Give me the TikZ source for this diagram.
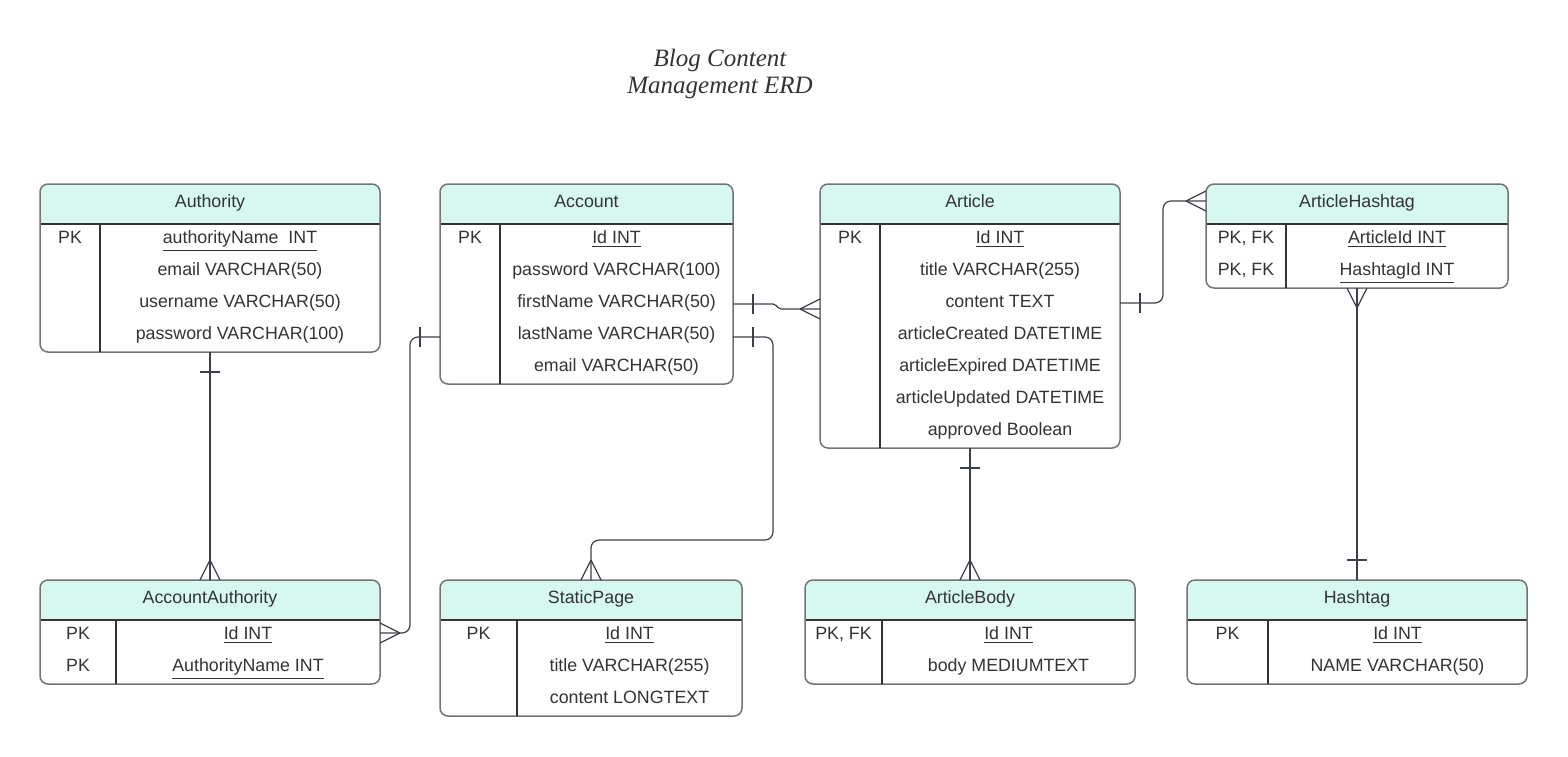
\documentclass[tikz,border=0pt]{standalone}
\usepackage{fontspec}
\setmainfont{Liberation Sans}
\newfontfamily\titlefont{Liberation Serif}
\usepackage{tikz}
\definecolor{mint}{HTML}{D7F8F1}
\definecolor{framegray}{HTML}{737373}
\definecolor{ink}{HTML}{333333}
\definecolor{linegray}{HTML}{3C4048}

\begin{document}
\begin{tikzpicture}[x=0.5pt,y=-0.5pt,
  table/.style={draw=framegray,line width=0.75pt,rounded corners=4pt,inner sep=0pt,outer sep=0pt,
    path picture={\fill[mint,sharp corners] (path picture bounding box.north west) rectangle ([yshift=-20pt]path picture bounding box.north east);
      \draw[ink,line width=0.6pt,sharp corners] ([yshift=-20pt]path picture bounding box.north west) -- ([yshift=-20pt]path picture bounding box.north east);}},
  rule/.style={draw=ink,line width=0.6pt},
  head/.style={text=ink,font=\fontsize{8.9}{10}\selectfont,text height=8pt,text depth=1.6pt,inner sep=0pt},
  key/.style={head},
  field/.style={head},
  conn/.style={draw=linegray,line width=0.6pt,rounded corners=4pt},
  crow/.pic={\draw[draw=linegray,line width=0.6pt] (-20,0) -- (0,-10) (-20,0) -- (0,10);},
  onebar/.pic={\draw[draw=linegray,line width=0.6pt] (-20,-10) -- (-20,10);}]
  \useasboundingbox (0,0) rectangle (1568,756);

  \node[align=center,text=ink,font=\titlefont\itshape\fontsize{12.5}{13.5}\selectfont] (title) at (720,74) {Blog Content\\Management ERD};

  % Authority
  \node[table,minimum width=170pt,minimum height=84pt] (auth) at (210,268) {};
  \draw[rule] ([shift={(60,40)}]auth.north west) -- ([shift={(60,0)}]auth.south west);
  \node[head] (auth-h) at ([yshift=-8.5pt]auth.north) {Authority};
  \node[key] (auth-k1) at (70,237) {PK};
  \node[field] (auth-r1) at (240,237) {\underline{authorityName\ \ INT}};
  \node[field] (auth-r2) at (240,269) {email VARCHAR(50)};
  \node[field] (auth-r3) at (240,301) {username VARCHAR(50)};
  \node[field] (auth-r4) at (240,333) {password VARCHAR(100)};

  % Account
  \node[table,minimum width=146.5pt,minimum height=100pt] (acc) at (586.5,284) {};
  \draw[rule] ([shift={(60,40)}]acc.north west) -- ([shift={(60,0)}]acc.south west);
  \node[head] (acc-h) at ([yshift=-8.5pt]acc.north) {Account};
  \node[key] (acc-k1) at (470,237) {PK};
  \node[field] (acc-r1) at (616.5,237) {\underline{Id INT}};
  \node[field] (acc-r2) at (616.5,269) {password VARCHAR(100)};
  \node[field] (acc-r3) at (616.5,301) {firstName VARCHAR(50)};
  \node[field] (acc-r4) at (616.5,333) {lastName VARCHAR(50)};
  \node[field] (acc-r5) at (616.5,365) {email VARCHAR(50)};

  % Article
  \node[table,minimum width=150pt,minimum height=132pt] (art) at (970,316) {};
  \draw[rule] ([shift={(60,40)}]art.north west) -- ([shift={(60,0)}]art.south west);
  \node[head] (art-h) at ([yshift=-8.5pt]art.north) {Article};
  \node[key] (art-k1) at (850,237) {PK};
  \node[field] (art-r1) at (1000,237) {\underline{Id INT}};
  \node[field] (art-r2) at (1000,269) {title VARCHAR(255)};
  \node[field] (art-r3) at (1000,301) {content TEXT};
  \node[field] (art-r4) at (1000,333) {articleCreated DATETIME};
  \node[field] (art-r5) at (1000,365) {articleExpired DATETIME};
  \node[field] (art-r6) at (1000,397) {articleUpdated DATETIME};
  \node[field] (art-r7) at (1000,429) {approved Boolean};

  % ArticleHashtag
  \node[table,minimum width=151pt,minimum height=52pt] (ahash) at (1357,236) {};
  \draw[rule] ([shift={(80,40)}]ahash.north west) -- ([shift={(80,0)}]ahash.south west);
  \node[head] (ahash-h) at ([yshift=-8.5pt]ahash.north) {ArticleHashtag};
  \node[key] (ahash-k1) at (1246,237) {PK, FK};
  \node[key] (ahash-k2) at (1246,269) {PK, FK};
  \node[field] (ahash-r1) at (1397,237) {\underline{ArticleId INT}};
  \node[field] (ahash-r2) at (1397,269) {\underline{HashtagId INT}};

  % AccountAuthority
  \node[table,minimum width=170pt,minimum height=52pt] (accauth) at (210,632) {};
  \draw[rule] ([shift={(76,40)}]accauth.north west) -- ([shift={(76,0)}]accauth.south west);
  \node[head] (accauth-h) at ([yshift=-8.5pt]accauth.north) {AccountAuthority};
  \node[key] (accauth-k1) at (78,633) {PK};
  \node[key] (accauth-k2) at (78,665) {PK};
  \node[field] (accauth-r1) at (248,633) {\underline{Id INT}};
  \node[field] (accauth-r2) at (248,665) {\underline{AuthorityName INT}};

  % StaticPage
  \node[table,minimum width=151pt,minimum height=68pt] (spage) at (591,648) {};
  \draw[rule] ([shift={(77,40)}]spage.north west) -- ([shift={(77,0)}]spage.south west);
  \node[head] (spage-h) at ([yshift=-8.5pt]spage.north) {StaticPage};
  \node[key] (spage-k1) at (478.5,633) {PK};
  \node[field] (spage-r1) at (629.5,633) {\underline{Id INT}};
  \node[field] (spage-r2) at (629.5,665) {title VARCHAR(255)};
  \node[field] (spage-r3) at (629.5,697) {content LONGTEXT};

  % ArticleBody
  \node[table,minimum width=165pt,minimum height=52pt] (abody) at (970,632) {};
  \draw[rule] ([shift={(77,40)}]abody.north west) -- ([shift={(77,0)}]abody.south west);
  \node[head] (abody-h) at ([yshift=-8.5pt]abody.north) {ArticleBody};
  \node[key] (abody-k1) at (843.5,633) {PK, FK};
  \node[field] (abody-r1) at (1008.5,633) {\underline{Id INT}};
  \node[field] (abody-r2) at (1008.5,665) {body MEDIUMTEXT};

  % Hashtag
  \node[table,minimum width=170pt,minimum height=52pt] (hash) at (1357,632) {};
  \draw[rule] ([shift={(81,40)}]hash.north west) -- ([shift={(81,0)}]hash.south west);
  \node[head] (hash-h) at ([yshift=-8.5pt]hash.north) {Hashtag};
  \node[key] (hash-k1) at (1227.5,633) {PK};
  \node[field] (hash-r1) at (1397.5,633) {\underline{Id INT}};
  \node[field] (hash-r2) at (1397.5,665) {NAME VARCHAR(50)};

  % relations
  \coordinate (acc-e3) at ([yshift=-1.5pt]acc.east |- acc-r3);
  \coordinate (acc-e4) at ([yshift=-2pt]acc.east |- acc-r4);
  \coordinate (acc-w4) at ([yshift=-2pt]acc.west |- acc-r4);
  \coordinate (art-e3) at ([yshift=-1pt]art.east |- art-r3);

  \draw[conn] (auth.south) -- (accauth.north);
  \pic[rotate=90] at (auth.south) {onebar};
  \pic[rotate=-90] at (accauth.north) {crow};

  \draw[conn] (acc-w4) -- ++(-30,0) |- (accauth.east |- accauth-r1);
  \pic at (acc-w4) {onebar};
  \pic[rotate=180] at (accauth.east |- accauth-r1) {crow};

  \draw[conn,rounded corners=1pt] (acc-e3) -- ++(42,0) -- ++(4,5) coordinate (jog) -- (jog -| art.west);
  \pic[rotate=180] at (acc-e3) {onebar};
  \pic at (jog -| art.west) {crow};

  \draw[conn] (acc-e4) -- ++(40,0) -- ++(0,203) -| (spage.north);
  \pic[rotate=180] at (acc-e4) {onebar};
  \pic[rotate=-90] at (spage.north) {crow};

  \draw[conn] (art-e3) -- ++(43,0) |- (ahash.west |- ahash-h);
  \pic[rotate=180] at (art-e3) {onebar};
  \pic at (ahash.west |- ahash-h) {crow};

  \draw[conn] (art.south) -- (abody.north);
  \pic[rotate=90] at (art.south) {onebar};
  \pic[rotate=-90] at (abody.north) {crow};

  \draw[conn] (ahash.south) -- (hash.north);
  \pic[rotate=90] at (ahash.south) {crow};
  \pic[rotate=-90] at (hash.north) {onebar};
\end{tikzpicture}
\end{document}
